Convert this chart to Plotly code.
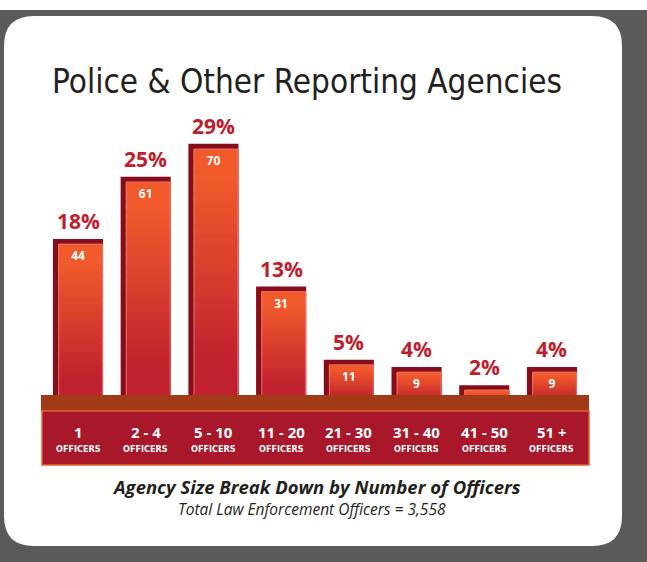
import plotly.graph_objects as go

# data
categories = ["1", "2 - 4", "5 - 10", "11 - 20", "21 - 30", "31 - 40", "41 - 50", "51 +"]
agencies = [44, 61, 70, 31, 11, 9, 4, 9]
percents = ["18%", "25%", "29%", "13%", "5%", "4%", "2%", "4%"]
title = "Police & Other Reporting Agencies"
subtitle = "Agency Size Break Down by Number of Officers"
note = "Total Law Enforcement Officers = 3,558"

W, H = 647, 562


def px(x):
    return x / W


def py(y):
    return 1 - y / H


def mix(c1, c2, t):
    a = [int(c1[i:i + 2], 16) for i in (1, 3, 5)]
    b = [int(c2[i:i + 2], 16) for i in (1, 3, 5)]
    return "#" + "".join(f"{round(a[k] + (b[k] - a[k]) * t):02x}" for k in range(3))


fig = go.Figure()

# dark side / top of each bar (sits slightly left and above the front face)
fig.add_trace(go.Bar(x=categories, y=[v + 1.4 for v in agencies], offset=-0.37, width=0.74,
                     marker=dict(color="#860e1a", line=dict(width=0)), hoverinfo="skip"))

# front face, stacked in overlapping slices to fake the red -> orange gradient
n = 24
for j in range(n):
    t = j / (n - 1)
    col = mix("#c1212e", "#f15a2b", min(1, max(0, (t - 0.15) / 0.75)))
    k = 1.6 if j < n - 1 else 1.0
    fig.add_trace(go.Bar(x=categories, y=[v / n * k for v in agencies],
                         base=[v * j / n for v in agencies],
                         offset=-0.295, width=0.665,
                         marker=dict(color=col, line=dict(width=0)), hoverinfo="skip"))

# thin light outline of the front face
fig.add_trace(go.Bar(x=categories, y=agencies, offset=-0.285, width=0.645,
                     marker=dict(color="rgba(0,0,0,0)", line=dict(width=1, color="rgba(235,120,125,0.8)")),
                     hoverinfo="skip"))

# counts inside the bars (kept in the trace layer so the ledge covers the short ones)
fig.add_trace(go.Scatter(x=categories, y=agencies, mode="markers+text", text=[f"<b>{v}</b>" for v in agencies],
                         textposition="bottom center", marker=dict(size=10, opacity=0),
                         textfont=dict(family="Open Sans", size=12, color="white"), hoverinfo="skip"))

ann = []
for i, (c, v, p) in enumerate(zip(categories, agencies, percents)):
    ann.append(dict(x=i, y=v + 1.4, xref="x", yref="y", text=f"<b>{p}</b>", showarrow=False,
                    yanchor="bottom", yshift=2, font=dict(family="Open Sans", size=21, color="#be1e2d")))
    ann.append(dict(x=i, y=py(432), xref="x", yref="paper", text=f"<b>{c}</b>", showarrow=False,
                    yanchor="middle", font=dict(family="Open Sans", size=15, color="white")))
    ann.append(dict(x=i, y=py(449), xref="x", yref="paper", text="<b>OFFICERS</b>", showarrow=False,
                    yanchor="middle", font=dict(family="DejaVu Sans Condensed", size=9, color="white")))

ann.append(dict(x=px(307), y=py(81), xref="paper", yref="paper", text=title, showarrow=False,
                yanchor="middle", font=dict(family="DejaVu Sans Condensed", size=33, color="#231f20")))
ann.append(dict(x=px(316), y=py(486), xref="paper", yref="paper", text=f"<b><i>{subtitle}</i></b>",
                yanchor="middle", showarrow=False, font=dict(family="Open Sans", size=18.5, color="#231f20")))
ann.append(dict(x=px(312), y=py(509), xref="paper", yref="paper", text=f"<i>{note}</i>",
                yanchor="middle", showarrow=False, font=dict(family="Open Sans", size=15.5, color="#231f20")))

# rounded white panel on the dark frame
x0, x1, y0, y1, r = 4, 622, 16, 546, 30
path = (f"M {px(x0 + r)} {py(y0)} L {px(x1 - r)} {py(y0)} Q {px(x1)} {py(y0)} {px(x1)} {py(y0 + r)} "
        f"L {px(x1)} {py(y1 - r)} Q {px(x1)} {py(y1)} {px(x1 - r)} {py(y1)} "
        f"L {px(x0 + r)} {py(y1)} Q {px(x0)} {py(y1)} {px(x0)} {py(y1 - r)} "
        f"L {px(x0)} {py(y0 + r)} Q {px(x0)} {py(y0)} {px(x0 + r)} {py(y0)} Z")

shapes = [
    dict(type="rect", xref="paper", yref="paper", x0=0, x1=1, y0=py(10), y1=1,
         fillcolor="white", line=dict(width=0), layer="below"),
    dict(type="path", xref="paper", yref="paper", path=path,
         fillcolor="white", line=dict(width=0), layer="below"),
    # brown ledge and red label strip
    dict(type="rect", xref="paper", yref="paper", x0=px(41), x1=px(589), y0=py(411), y1=py(395),
         fillcolor="#a13a16", line=dict(width=0), layer="above"),
    dict(type="rect", xref="paper", yref="paper", x0=px(42), x1=px(589), y0=py(465), y1=py(411),
         fillcolor="#a8172a", line=dict(width=1.5, color="#e4632f"), layer="above"),
]

fig.update_layout(
    width=W, height=H,
    margin=dict(l=0, r=0, t=0, b=0),
    paper_bgcolor="#5b5a58",
    plot_bgcolor="rgba(0,0,0,0)",
    barmode="overlay",
    showlegend=False,
    xaxis=dict(domain=[0, 1], range=[-78 / 67.71, (W - 78) / 67.71], visible=False),
    yaxis=dict(domain=[py(405), py(112.4)], range=[0, 80], visible=False),
    annotations=ann,
    shapes=shapes,
)

fig.write_html("out.html", post_script="document.body.style.margin='0';",
               config={"displayModeBar": False})
